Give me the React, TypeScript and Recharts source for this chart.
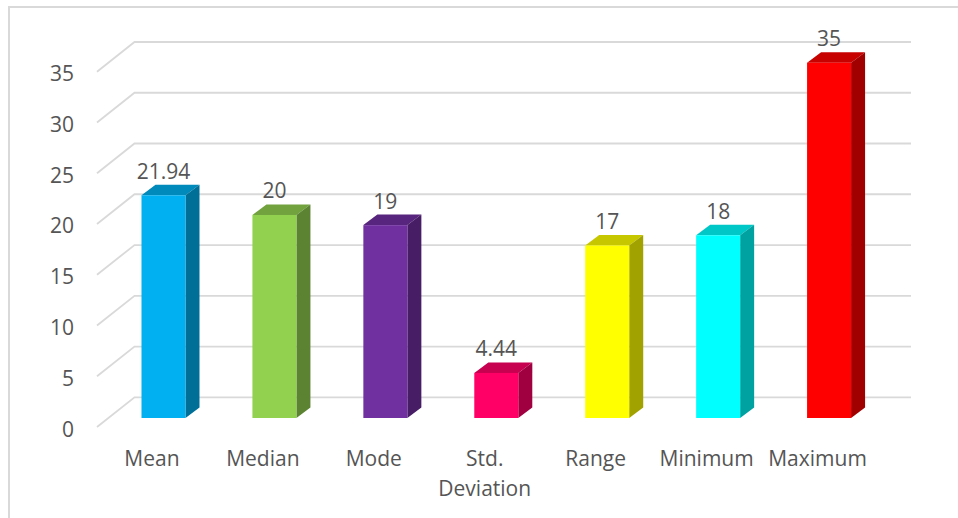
import React from "react";
import {
  BarChart,
  Bar,
  XAxis,
  YAxis,
  CartesianGrid,
  Cell,
  LabelList,
} from "recharts";

const categories = ["Mean", "Median", "Mode", "Std. Deviation", "Range", "Minimum", "Maximum"];
const values = [21.94, 20, 19, 4.44, 17, 18, 35];
const yTicks = [0, 5, 10, 15, 20, 25, 30, 35];
const barColors = ["#00B0F0", "#92D050", "#7030A0", "#FF0066", "#FFFF00", "#00FFFF", "#FF0000"];

const chartData = categories.map((name, i) => ({ name, value: values[i] }));

const TEXT = "#555555";
const GRID = "#d9d9d9";
const FONT = "'Open Sans', sans-serif";
// depth of the 3D effect
const DX = 14;
const DY = -10.5;

const shade = (hex: string, f: number) => {
  const n = parseInt(hex.slice(1), 16);
  const r = Math.round(((n >> 16) & 255) * f);
  const g = Math.round(((n >> 8) & 255) * f);
  const b = Math.round((n & 255) * f);
  return `rgb(${r},${g},${b})`;
};

const Bar3D = (props: any) => {
  const { x, y, width, height, fill } = props;
  if (!height) return null;
  return (
    <g>
      <polygon
        points={`${x},${y} ${x + DX},${y + DY} ${x + width + DX},${y + DY} ${x + width},${y}`}
        fill={shade(fill, 0.78)}
      />
      <polygon
        points={`${x + width},${y} ${x + width + DX},${y + DY} ${x + width + DX},${y + height + DY} ${x + width},${y + height}`}
        fill={shade(fill, 0.63)}
      />
      <rect x={x} y={y} width={width} height={height} fill={fill} />
    </g>
  );
};

const GridLine = (props: any) => {
  const { x1, x2, y1 } = props;
  return (
    <polyline
      key={props.key}
      points={`${x1 - 11.5},${y1 + 9} ${x1 + 26},${y1 - 20.7} ${x2 + 26},${y1 - 20.7}`}
      fill="none"
      stroke={GRID}
      strokeWidth={1.8}
    />
  );
};

const YTick = (props: any) => {
  const { x, y, payload } = props;
  return (
    <text
      x={x - 34.5}
      y={y + 10.5}
      textAnchor="end"
      dominantBaseline="central"
      fill={TEXT}
      fontSize={21}
      fontFamily={FONT}
    >
      {payload.value}
    </text>
  );
};

const XTick = (props: any) => {
  const { x, y, payload } = props;
  const lines = String(payload.value).split(" ");
  return (
    <text
      x={x - 12}
      y={y + 40}
      textAnchor="middle"
      dominantBaseline="central"
      fill={TEXT}
      fontSize={21}
      fontFamily={FONT}
    >
      {lines.map((l, i) => (
        <tspan key={i} x={x - 12} dy={i === 0 ? 0 : 30}>
          {l}
        </tspan>
      ))}
    </text>
  );
};

const ValueLabel = (props: any) => {
  const { x, y, width, value } = props;
  return (
    <text
      x={x + width / 2}
      y={y - 24.5}
      textAnchor="middle"
      dominantBaseline="central"
      fill={TEXT}
      fontSize={21}
      fontFamily={FONT}
    >
      {value}
    </text>
  );
};

export default function App() {
  return (
    <div style={{ position: "absolute", left: 0, top: 0, width: 958, height: 518, background: "#fff", overflow: "hidden" }}>
      <div
        style={{
          position: "absolute",
          left: 8,
          top: 6,
          width: 980,
          height: 540,
          borderLeft: `2px solid ${GRID}`,
          borderTop: `2px solid ${GRID}`,
        }}
      />
      <BarChart
        width={958}
        height={518}
        data={chartData}
        margin={{ top: 62.7, right: 73, bottom: 60, left: 0 }}
        style={{ position: "absolute", left: 0, top: 0 }}
      >
        <CartesianGrid vertical={false} horizontal={GridLine} />
        <XAxis
          dataKey="name"
          interval={0}
          axisLine={false}
          tickLine={false}
          tickSize={0}
          tickMargin={0}
          height={40}
          tick={XTick}
        />
        <YAxis
          domain={[0, 35]}
          ticks={yTicks}
          width={108.5}
          axisLine={false}
          tickLine={false}
          tickSize={0}
          tickMargin={0}
          tick={YTick}
        />
        <Bar dataKey="value" barSize={44} shape={Bar3D} isAnimationActive={false}>
          {chartData.map((d, i) => (
            <Cell key={d.name} fill={barColors[i]} />
          ))}
          <LabelList dataKey="value" content={ValueLabel} />
        </Bar>
      </BarChart>
    </div>
  );
}
